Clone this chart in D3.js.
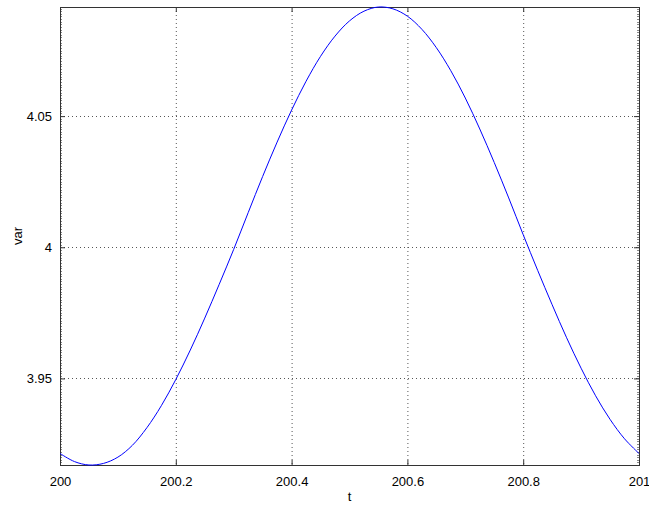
<!DOCTYPE html>
<html>
<head>
<meta charset="utf-8">
<script src="https://cdn.jsdelivr.net/npm/d3@7"></script>
<style>
  body { margin: 0; background: #fff; }
  text { font-family: "Liberation Sans", Arial, sans-serif; }
</style>
</head>
<body>
<div id="chart"></div>
<script>
// Data
const tValues = [
    200.000, 200.025, 200.050, 200.075, 200.100, 200.125, 200.150, 200.175, 200.200, 200.225,
    200.250, 200.275, 200.300, 200.325, 200.350, 200.375, 200.400, 200.425, 200.450, 200.475,
    200.500, 200.525, 200.550, 200.575, 200.600, 200.625, 200.650, 200.675, 200.700, 200.725,
    200.750, 200.775, 200.800, 200.825, 200.850, 200.875, 200.900, 200.925, 200.950, 200.975,
    201.000
];
const varValues = [
    3.9214, 3.9183, 3.9170, 3.9176, 3.9200, 3.9245, 3.9312, 3.9396, 3.9496, 3.9608,
    3.9730, 3.9859, 3.9992, 4.0132, 4.0270, 4.0401, 4.0523, 4.0633, 4.0728, 4.0805,
    4.0863, 4.0900, 4.0916, 4.0909, 4.0881, 4.0831, 4.0761, 4.0673, 4.0569, 4.0451,
    4.0323, 4.0188, 4.0048, 3.9912, 3.9781, 3.9655, 3.9539, 3.9434, 3.9344, 3.9270,
    3.9214
];
const xTicks = [200, 200.2, 200.4, 200.6, 200.8, 201];
const yTicks = [3.95, 4, 4.05];

const margin = { top: 7, right: 10, bottom: 41, left: 60 };
const width = 649 - margin.left - margin.right;
const height = 506 - margin.top - margin.bottom;

const svg = d3.select("#chart")
    .append("svg")
    .attr("width", 649)
    .attr("height", 506)
    .append("g")
    .attr("transform", `translate(${margin.left}, ${margin.top})`);

const data = tValues.map((t, i) => ({ t: t, v: varValues[i] }));

const xScale = d3.scaleLinear()
    .domain([200, 201])
    .range([0, width]);

const yScale = d3.scaleLinear()
    .domain(d3.extent(varValues))
    .range([height, 0]);

// Dotted grid
svg.append("g")
    .selectAll("line")
    .data(xTicks.slice(1, -1))
    .join("line")
    .attr("x1", d => xScale(d) + 0.5)
    .attr("x2", d => xScale(d) + 0.5)
    .attr("y1", 0)
    .attr("y2", height)
    .attr("stroke", "#555")
    .attr("stroke-dasharray", "1,3");

svg.append("g")
    .selectAll("line")
    .data(yTicks)
    .join("line")
    .attr("x1", 0)
    .attr("x2", width)
    .attr("y1", d => Math.round(yScale(d)) + 0.5)
    .attr("y2", d => Math.round(yScale(d)) + 0.5)
    .attr("stroke", "#555")
    .attr("stroke-dasharray", "1,3");

// Minor ticks on y (left & right)
const minor = d3.range(3.918, 4.0915, 0.001);
[0, width].forEach((x0, k) => {
    svg.append("g")
        .selectAll("line")
        .data(minor)
        .join("line")
        .attr("x1", x0)
        .attr("x2", k === 0 ? x0 + 2 : x0 - 2)
        .attr("y1", d => Math.round(yScale(d)) + 0.5)
        .attr("y2", d => Math.round(yScale(d)) + 0.5)
        .attr("stroke", "#888");
});

// Axes (ticks inward)
const xAxis = svg.append("g")
    .attr("transform", `translate(0, ${height})`)
    .call(d3.axisBottom(xScale).tickValues(xTicks).tickSizeInner(-5).tickSizeOuter(0).tickPadding(12).tickFormat(d => String(+d.toFixed(1))));

svg.append("g")
    .call(d3.axisTop(xScale).tickValues(xTicks).tickSizeInner(-5).tickSizeOuter(0).tickFormat(""));

const yAxis = svg.append("g")
    .call(d3.axisLeft(yScale).tickValues(yTicks).tickSizeInner(-5).tickSizeOuter(0).tickPadding(8).tickFormat(d => String(+d.toFixed(2))));

svg.append("g")
    .attr("transform", `translate(${width}, 0)`)
    .call(d3.axisRight(yScale).tickValues(yTicks).tickSizeInner(-5).tickSizeOuter(0).tickFormat(""));

svg.selectAll(".domain").remove();
svg.selectAll(".tick line").attr("stroke", "#333");
svg.selectAll(".tick text").attr("font-size", 13).attr("fill", "#000")
    .style("font-family", "'Liberation Sans', Arial, sans-serif");

// Frame
svg.append("rect")
    .attr("x", 0.5)
    .attr("y", 0.5)
    .attr("width", width)
    .attr("height", height)
    .attr("fill", "none")
    .attr("stroke", "#333");

// Curve
const line = d3.line()
    .x(d => xScale(d.t))
    .y(d => yScale(d.v))
    .curve(d3.curveCatmullRom.alpha(0.5));

svg.append("path")
    .datum(data)
    .attr("fill", "none")
    .attr("stroke", "#0000ff")
    .attr("stroke-width", 1)
    .attr("d", line);

// Axis labels
svg.append("text")
    .attr("x", width / 2)
    .attr("y", height + 36)
    .attr("text-anchor", "middle")
    .attr("font-size", 13)
    .text("t");

svg.append("text")
    .attr("transform", `translate(${-38}, ${height / 2}) rotate(-90)`)
    .attr("text-anchor", "middle")
    .attr("font-size", 13)
    .text("var");
</script>
</body>
</html>
